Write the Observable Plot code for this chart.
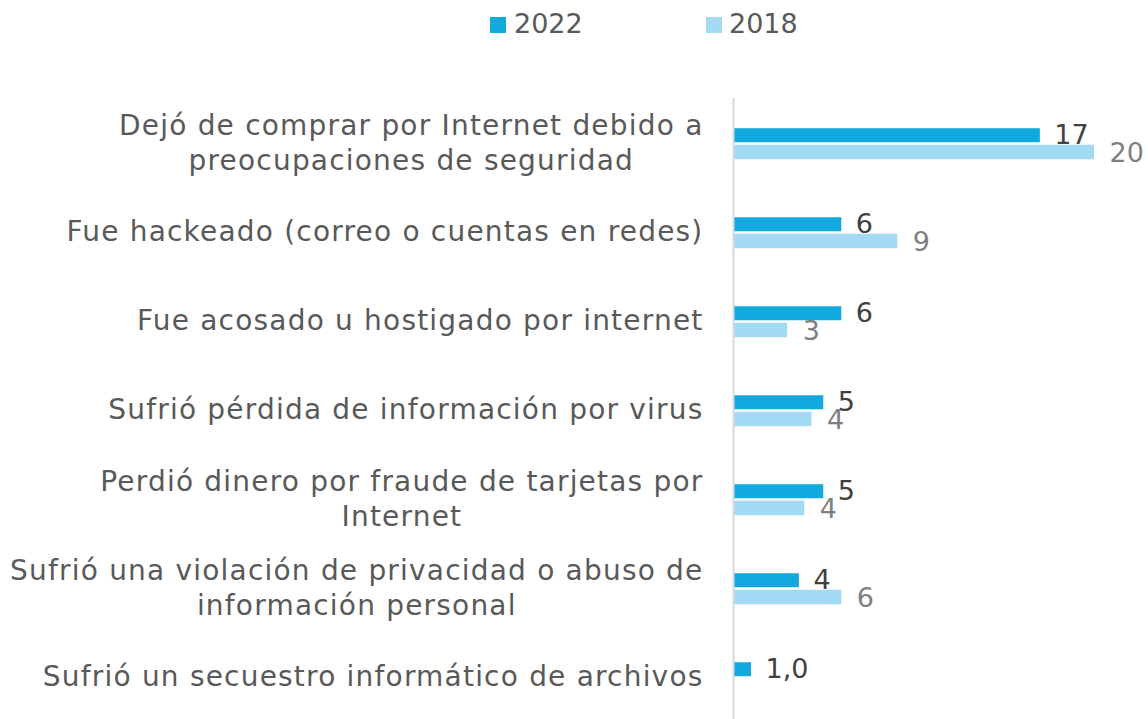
<!DOCTYPE html>
<html>
<head>
<meta charset="utf-8">
<script src="https://cdn.jsdelivr.net/npm/d3@7"></script>
<script src="https://cdn.jsdelivr.net/npm/@observablehq/plot@0.6"></script>
<style>
  html, body { margin: 0; padding: 0; background: #fff; overflow: hidden; }
  body { width: 1148px; height: 719px; position: relative; font-family: "DejaVu Sans", sans-serif; }
  #legend { position: relative; height: 60px; }
  .sw { position: absolute; top: 17px; width: 16px; height: 16px; }
  .lt { position: absolute; top: 6px; font-size: 27px; color: #595959; line-height: 36px; }
  #chart svg { display: block; }
</style>
</head>
<body>
<div id="legend">
  <div class="sw" style="left:490px;background:#12A9DE"></div><div class="lt" id="l1" style="left:514px"></div>
  <div class="sw" style="left:706px;background:#A3DAF4"></div><div class="lt" id="l2" style="left:729px"></div>
</div>
<div id="chart"></div>
<script>
const categories = [
  "Dejó de comprar por Internet debido a\npreocupaciones de seguridad",
  "Fue hackeado (correo o cuentas en redes)",
  "Fue acosado u hostigado por internet",
  "Sufrió pérdida de información por virus",
  "Perdió dinero por fraude de tarjetas por\nInternet",
  "Sufrió una violación de privacidad o abuso de\ninformación personal",
  "Sufrió un secuestro informático de archivos"
];
const seriesNames = ["2022", "2018"];
const values2022 = [17.0, 6.0, 6.0, 5.0, 5.0, 3.65, 1.0];
const values2018 = [20.0, 9.1, 3.0, 4.35, 3.95, 6.0, null];
const labels2022 = ["17", "6", "6", "5", "5", "4", "1,0"];
const labels2018 = ["20", "9", "3", "4", "4", "6", ""];
const colors = ["#12A9DE", "#A3DAF4"];

document.getElementById("l1").textContent = seriesNames[0];
document.getElementById("l2").textContent = seriesNames[1];

const d22 = categories.map((c, i) => ({cat: c, v: values2022[i], label: labels2022[i]}));
const d18 = categories.map((c, i) => ({cat: c, v: values2018[i], label: labels2018[i]})).filter(d => d.v != null);

const fontSize = 27;
const chart = Plot.plot({
  width: 1148,
  height: 664,
  marginLeft: 733,
  marginRight: 54,
  marginTop: 37.75,
  marginBottom: 0,
  style: {fontFamily: "DejaVu Sans, sans-serif", fontSize: fontSize + "px", color: "#595959", overflow: "visible"},
  x: {domain: [0, 20], axis: null},
  y: {domain: categories, padding: 0, label: null},
  marks: [
    Plot.barX(d22, {y: "cat", x: "v", fill: colors[0], insetTop: 29.25, insetBottom: 45.75}),
    Plot.barX(d18, {y: "cat", x: "v", fill: colors[1], insetTop: 45.75, insetBottom: 28.75}),
    Plot.text(d22, {y: "cat", x: "v", text: "label", dx: 14, dy: -9, textAnchor: "start", fill: "#404040", fontSize: fontSize}),
    Plot.text(d18, {y: "cat", x: "v", text: "label", dx: 15, dy: 9, textAnchor: "start", fill: "#7F7F7F", fontSize: fontSize}),
    Plot.ruleX([0], {stroke: "#D9D9D9", strokeWidth: 2}),
    Plot.axisY({tickSize: 0, tickPadding: 30, dy: -3, lineHeight: 1.25, fill: "#595959", fontSize: 28, label: null})
  ]
});
document.getElementById("chart").appendChild(chart);

// widen the category labels and center multi-line labels within their right-aligned block
const tickGroup = chart.querySelector('g[aria-label="y-axis tick label"]');
if (tickGroup) tickGroup.setAttribute("letter-spacing", "1.2");
chart.querySelectorAll('g[aria-label="y-axis tick label"] text').forEach(t => {
  const spans = t.querySelectorAll("tspan");
  if (spans.length > 1) {
    let w = 0;
    spans.forEach(s => { w = Math.max(w, s.getComputedTextLength()); });
    t.setAttribute("text-anchor", "middle");
    spans.forEach(s => s.setAttribute("x", -w / 2));
  }
});
</script>
</body>
</html>
